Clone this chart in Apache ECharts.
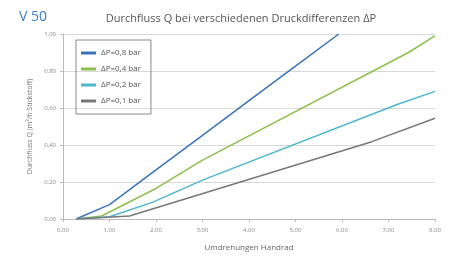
<!DOCTYPE html>
<html>
<head>
<meta charset="utf-8">
<script src="https://cdn.jsdelivr.net/npm/echarts@6/dist/echarts.min.js"></script>
<style>
  html, body { margin: 0; padding: 0; background: #fff; }
  #chart-container { width: 451px; height: 257px; }
</style>
</head>
<body>
<div id="chart-container"></div>
<script>
var dom = document.getElementById('chart-container');
var myChart = echarts.init(dom, null, { renderer: 'canvas' });

// Umdrehungen Handrad -> Durchfluss Q
var seriesNames = ['\u0394P=0,8 bar', '\u0394P=0,4 bar', '\u0394P=0,2 bar', '\u0394P=0,1 bar'];
var q08 = [[0.28, 0], [1.0, 0.078], [2.0, 0.265], [3.0, 0.452], [4.0, 0.64], [5.0, 0.826], [5.93, 1.0]];
var q04 = [[0.28, 0], [0.83, 0.016], [2.0, 0.165], [3.0, 0.318], [7.43, 0.9], [8.0, 0.99]];
var q02 = [[0.28, 0], [1.0, 0.012], [1.92, 0.09], [3.0, 0.21], [7.2, 0.62], [8.0, 0.69]];
var q01 = [[0.28, 0], [1.43, 0.016], [6.64, 0.418], [8.0, 0.545]];
var colors = ['#3a73ba', '#8cbf4e', '#4db6cc', '#777777'];

var font = 'Open Sans';
var fmt = function (v) { return v.toFixed(2).replace('.', ','); };

var option = {
  animation: false,
  textStyle: { fontFamily: font },
  title: [
    {
      text: 'V 50',
      left: 14, top: 5,
      textStyle: { color: '#3a80c6', fontSize: 14, fontWeight: 'normal', fontFamily: font }
    },
    {
      text: 'Durchfluss Q bei verschiedenen Druckdifferenzen \u0394P',
      left: 236, top: 8, textAlign: 'center',
      textStyle: { color: '#555', fontSize: 11, fontWeight: 'normal', fontFamily: font }
    }
  ],
  legend: {
    orient: 'vertical',
    left: 76, top: 40,
    padding: [9, 10, 9, 5],
    itemGap: 8,
    itemWidth: 15, itemHeight: 3,
    icon: 'rect',
    borderColor: '#888', borderWidth: 1,
    textStyle: { fontSize: 8, color: '#555', fontFamily: font },
    data: seriesNames
  },
  grid: { left: 63, right: 16, top: 34, bottom: 34 },
  xAxis: {
    type: 'value',
    min: 0, max: 8, interval: 1,
    name: 'Umdrehungen Handrad',
    nameLocation: 'middle',
    nameGap: 25,
    nameTextStyle: { fontSize: 8, color: '#666' },
    axisLine: { show: true, lineStyle: { color: '#bbb' } },
    axisTick: { show: true, length: 3, lineStyle: { color: '#bbb' } },
    axisLabel: { formatter: fmt, fontSize: 6, color: '#888', margin: 8 },
    splitLine: { show: false }
  },
  yAxis: {
    type: 'value',
    min: 0, max: 1, interval: 0.2,
    name: 'Durchfluss Q (m\u00b3/h Stickstoff)',
    nameLocation: 'middle',
    nameGap: 30,
    nameTextStyle: { fontSize: 7, color: '#777' },
    axisLine: { show: true, lineStyle: { color: '#bbb' } },
    axisTick: { show: true, length: 3, lineStyle: { color: '#bbb' } },
    axisLabel: { formatter: fmt, fontSize: 6, color: '#888', margin: 7 },
    splitLine: { show: true, lineStyle: { color: '#d9d9d9' } }
  },
  series: [q08, q04, q02, q01].map(function (d, i) {
    return {
      name: seriesNames[i],
      type: 'line',
      data: d,
      symbol: 'none',
      clip: true,
      itemStyle: { color: colors[i] },
      lineStyle: { color: colors[i], width: 1.5 }
    };
  })
};

myChart.setOption(option);
window.addEventListener('resize', myChart.resize);
</script>
</body>
</html>
